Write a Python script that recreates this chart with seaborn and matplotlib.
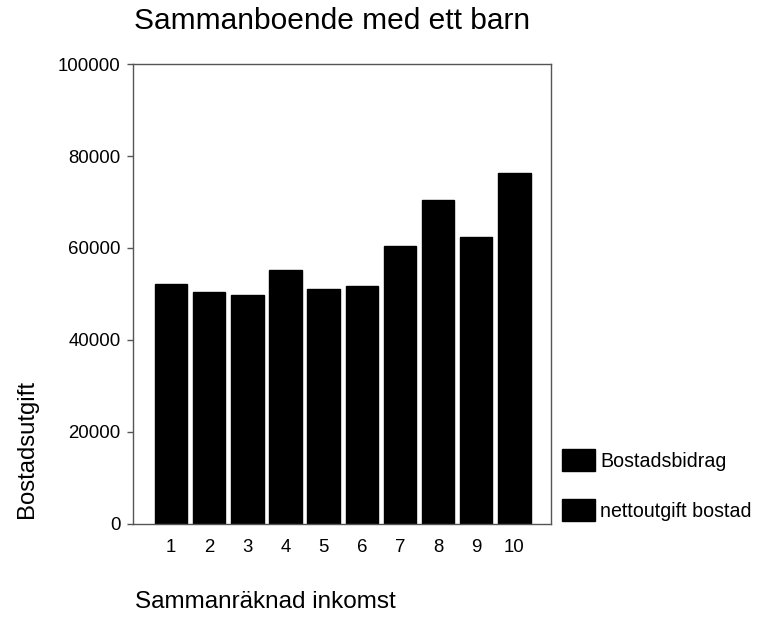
import pandas as pd
import matplotlib
matplotlib.use('Agg')
import matplotlib.pyplot as plt
from matplotlib.patches import Patch
import seaborn as sns

# data (total bar height per income group)
inkomst = ['1', '2', '3', '4', '5', '6', '7', '8', '9', '10']
bostadsutgift = [52100, 50400, 49700, 55200, 51000, 51800, 60400, 70400, 62300, 76200]
serier = ['Bostadsbidrag', 'nettoutgift bostad']
yticks = [0, 20000, 40000, 60000, 80000, 100000]

df = pd.DataFrame({'inkomst': inkomst, 'bostadsutgift': bostadsutgift})

sns.set_style('white')
plt.rcParams['font.family'] = ['Liberation Sans', 'DejaVu Sans']
plt.rcParams['text.color'] = 'black'
plt.rcParams['axes.labelcolor'] = 'black'

fig = plt.figure(figsize=(7.62, 6.19), dpi=100)
ax = fig.add_axes([0.1745, 0.1535, 0.5486, 0.7431])

sns.barplot(data=df, x='inkomst', y='bostadsutgift', color='black',
            edgecolor='black', width=0.85, saturation=1, ax=ax)

ax.set_xlim(-1, 9.96)
ax.set_ylim(0, 100000)
ax.set_yticks(yticks)
ax.set_yticklabels([str(t) for t in yticks])
ax.set_xlabel('')
ax.set_ylabel('')
for s in ax.spines.values():
    s.set_color('#555555')
    s.set_linewidth(1)
ax.tick_params(axis='y', left=True, length=4, width=1, color='#555555',
               pad=5, labelsize=13.4, labelcolor='black')
ax.tick_params(axis='x', bottom=False, pad=7, labelsize=13.4, labelcolor='black')

fig.text(0.4357, 1 - 29 / 619, 'Sammanboende med ett barn', ha='center',
         va='baseline', fontsize=21.5)
fig.text(135 / 762, 1 - 608 / 619, 'Sammanräknad inkomst', ha='left',
         va='baseline', fontsize=17.5)
fig.text(27 / 762, 1 - 449 / 619, 'Bostadsutgift', rotation=90, ha='center',
         va='center', fontsize=17.2)

handles = [Patch(facecolor='black', edgecolor='black') for _ in serier]
fig.legend(handles, serier, loc='upper left',
           bbox_to_anchor=(562 / 762, 1 - 449 / 619), frameon=False,
           fontsize=14.1, handlelength=1.7, handleheight=1.35,
           handletextpad=0.24, labelspacing=1.45, borderpad=0,
           borderaxespad=0)

fig.savefig('out.png', dpi=100)
